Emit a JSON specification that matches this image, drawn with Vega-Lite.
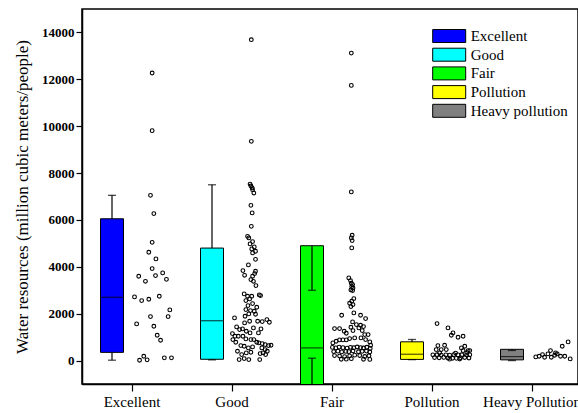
{
  "$schema": "https://vega.github.io/schema/vega-lite/v6.json",
  "width": 496,
  "height": 375,
  "autosize": "none",
  "padding": {"left": 82, "top": 9, "right": 0, "bottom": 29},
  "background": "white",
  "config": {
    "view": {"stroke": "black", "strokeWidth": 1.5},
    "font": "Liberation Serif",
    "style": {"guide-label": {"font": "Liberation Serif"}, "guide-title": {"font": "Liberation Serif"}},
    "axis": {"domainColor": "black", "domainWidth": 1.5, "tickColor": "black", "tickWidth": 1.2, "labelColor": "black", "titleColor": "black", "grid": false}
  },
  "datasets": {
    "boxes": [
      {"c": "Excellent", "q1": 350, "med": 2700, "q3": 6050, "lo": 15, "hi": 7050},
      {"c": "Good", "q1": 55, "med": 1700, "q3": 4800, "lo": 30, "hi": 7500},
      {"c": "Fair", "q1": -3000, "med": 540, "q3": 4900, "lo": 100, "hi": 3000},
      {"c": "Pollution", "q1": 50, "med": 270, "q3": 800, "lo": 40, "hi": 900},
      {"c": "Heavy Pollution", "q1": 30, "med": 170, "q3": 480, "lo": 0, "hi": 430}
    ],
    "points": [
      {"c": "Excellent", "v": 12270, "j": 0.48}, {"c": "Excellent", "v": 9810, "j": 0.48}, {"c": "Excellent", "v": 7050, "j": 0.44}, {"c": "Excellent", "v": 6270, "j": 0.52}, {"c": "Excellent", "v": 5045, "j": 0.48}, {"c": "Excellent", "v": 4620, "j": 0.40}, {"c": "Excellent", "v": 4337, "j": 0.57}, {"c": "Excellent", "v": 3924, "j": 0.48}, {"c": "Excellent", "v": 3740, "j": 0.73}, {"c": "Excellent", "v": 3596, "j": 0.16}, {"c": "Excellent", "v": 3625, "j": 0.56}, {"c": "Excellent", "v": 3467, "j": 0.82}, {"c": "Excellent", "v": 3382, "j": 0.32}, {"c": "Excellent", "v": 2717, "j": 0.06}, {"c": "Excellent", "v": 2559, "j": 0.23}, {"c": "Excellent", "v": 2616, "j": 0.40}, {"c": "Excellent", "v": 2744, "j": 0.65}, {"c": "Excellent", "v": 2162, "j": 0.90}, {"c": "Excellent", "v": 1877, "j": 0.86}, {"c": "Excellent", "v": 1877, "j": 0.44}, {"c": "Excellent", "v": 1565, "j": 0.11}, {"c": "Excellent", "v": 1465, "j": 0.52}, {"c": "Excellent", "v": 1080, "j": 0.60}, {"c": "Excellent", "v": 866, "j": 0.68}, {"c": "Excellent", "v": 185, "j": 0.28}, {"c": "Excellent", "v": 15, "j": 0.18}, {"c": "Excellent", "v": 30, "j": 0.36}, {"c": "Excellent", "v": 115, "j": 0.77}, {"c": "Excellent", "v": 115, "j": 0.94},
      {"c": "Good", "v": 13690, "j": 0.46}, {"c": "Good", "v": 9353, "j": 0.46}, {"c": "Good", "v": 7530, "j": 0.43}, {"c": "Good", "v": 7450, "j": 0.45}, {"c": "Good", "v": 7365, "j": 0.48}, {"c": "Good", "v": 7290, "j": 0.49}, {"c": "Good", "v": 7150, "j": 0.52}, {"c": "Good", "v": 6623, "j": 0.45}, {"c": "Good", "v": 6300, "j": 0.48}, {"c": "Good", "v": 5728, "j": 0.46}, {"c": "Good", "v": 5302, "j": 0.37}, {"c": "Good", "v": 5232, "j": 0.40}, {"c": "Good", "v": 5075, "j": 0.49}, {"c": "Good", "v": 4977, "j": 0.43}, {"c": "Good", "v": 4849, "j": 0.53}, {"c": "Good", "v": 4764, "j": 0.47}, {"c": "Good", "v": 4663, "j": 0.56}, {"c": "Good", "v": 4593, "j": 0.49}, {"c": "Good", "v": 4320, "j": 0.56}, {"c": "Good", "v": 4081, "j": 0.39}, {"c": "Good", "v": 3838, "j": 0.26}, {"c": "Good", "v": 3638, "j": 0.30}, {"c": "Good", "v": 3809, "j": 0.56}, {"c": "Good", "v": 3710, "j": 0.54}, {"c": "Good", "v": 3596, "j": 0.49}, {"c": "Good", "v": 3455, "j": 0.45}, {"c": "Good", "v": 3382, "j": 0.51}, {"c": "Good", "v": 3199, "j": 0.57}, {"c": "Good", "v": 2845, "j": 0.29}, {"c": "Good", "v": 2744, "j": 0.37}, {"c": "Good", "v": 2631, "j": 0.42}, {"c": "Good", "v": 2559, "j": 0.33}, {"c": "Good", "v": 2802, "j": 0.65}, {"c": "Good", "v": 2772, "j": 0.68}, {"c": "Good", "v": 2744, "j": 0.47}, {"c": "Good", "v": 2346, "j": 0.38}, {"c": "Good", "v": 2431, "j": 0.49}, {"c": "Good", "v": 2273, "j": 0.59}, {"c": "Good", "v": 2175, "j": 0.33}, {"c": "Good", "v": 2133, "j": 0.44}, {"c": "Good", "v": 2104, "j": 0.53}, {"c": "Good", "v": 1990, "j": 0.40}, {"c": "Good", "v": 1890, "j": 0.31}, {"c": "Good", "v": 1976, "j": 0.56}, {"c": "Good", "v": 1820, "j": 0.06}, {"c": "Good", "v": 1748, "j": 0.83}, {"c": "Good", "v": 1634, "j": 0.89}, {"c": "Good", "v": 1607, "j": 0.30}, {"c": "Good", "v": 1676, "j": 0.42}, {"c": "Good", "v": 1676, "j": 0.61}, {"c": "Good", "v": 1663, "j": 0.72}, {"c": "Good", "v": 1437, "j": 0.11}, {"c": "Good", "v": 1322, "j": 0.18}, {"c": "Good", "v": 1352, "j": 0.25}, {"c": "Good", "v": 1394, "j": 0.51}, {"c": "Good", "v": 1352, "j": 0.69}, {"c": "Good", "v": 1250, "j": 0.34}, {"c": "Good", "v": 1181, "j": 0.43}, {"c": "Good", "v": 1181, "j": 0.63}, {"c": "Good", "v": 1152, "j": 0.01}, {"c": "Good", "v": 1036, "j": 0.07}, {"c": "Good", "v": 1036, "j": 0.15}, {"c": "Good", "v": 1036, "j": 0.26}, {"c": "Good", "v": 924, "j": 0.33}, {"c": "Good", "v": 896, "j": 0.45}, {"c": "Good", "v": 896, "j": 0.52}, {"c": "Good", "v": 781, "j": 0.59}, {"c": "Good", "v": 896, "j": 0.02}, {"c": "Good", "v": 781, "j": 0.09}, {"c": "Good", "v": 753, "j": 0.64}, {"c": "Good", "v": 725, "j": 0.72}, {"c": "Good", "v": 682, "j": 0.79}, {"c": "Good", "v": 640, "j": 0.87}, {"c": "Good", "v": 653, "j": 0.93}, {"c": "Good", "v": 640, "j": 0.21}, {"c": "Good", "v": 610, "j": 0.29}, {"c": "Good", "v": 540, "j": 0.39}, {"c": "Good", "v": 584, "j": 0.49}, {"c": "Good", "v": 540, "j": 0.71}, {"c": "Good", "v": 469, "j": 0.79}, {"c": "Good", "v": 397, "j": 0.84}, {"c": "Good", "v": 327, "j": 0.74}, {"c": "Good", "v": 299, "j": 0.67}, {"c": "Good", "v": 397, "j": 0.13}, {"c": "Good", "v": 256, "j": 0.23}, {"c": "Good", "v": 327, "j": 0.34}, {"c": "Good", "v": 354, "j": 0.45}, {"c": "Good", "v": 43, "j": 0.17}, {"c": "Good", "v": 85, "j": 0.29}, {"c": "Good", "v": 43, "j": 0.40}, {"c": "Good", "v": 43, "j": 0.66}, {"c": "Good", "v": 256, "j": 0.80},
      {"c": "Fair", "v": 13120, "j": 0.46}, {"c": "Fair", "v": 11740, "j": 0.46}, {"c": "Fair", "v": 7195, "j": 0.46}, {"c": "Fair", "v": 5345, "j": 0.48}, {"c": "Fair", "v": 5232, "j": 0.46}, {"c": "Fair", "v": 5118, "j": 0.48}, {"c": "Fair", "v": 4806, "j": 0.47}, {"c": "Fair", "v": 3527, "j": 0.40}, {"c": "Fair", "v": 3412, "j": 0.44}, {"c": "Fair", "v": 3297, "j": 0.46}, {"c": "Fair", "v": 3241, "j": 0.49}, {"c": "Fair", "v": 3156, "j": 0.47}, {"c": "Fair", "v": 3100, "j": 0.50}, {"c": "Fair", "v": 3015, "j": 0.45}, {"c": "Fair", "v": 2985, "j": 0.49}, {"c": "Fair", "v": 2644, "j": 0.52}, {"c": "Fair", "v": 2530, "j": 0.47}, {"c": "Fair", "v": 2445, "j": 0.42}, {"c": "Fair", "v": 2388, "j": 0.50}, {"c": "Fair", "v": 2303, "j": 0.45}, {"c": "Fair", "v": 1933, "j": 0.23}, {"c": "Fair", "v": 2033, "j": 0.52}, {"c": "Fair", "v": 1933, "j": 0.68}, {"c": "Fair", "v": 1791, "j": 0.80}, {"c": "Fair", "v": 1649, "j": 0.49}, {"c": "Fair", "v": 1535, "j": 0.58}, {"c": "Fair", "v": 1507, "j": 0.68}, {"c": "Fair", "v": 1450, "j": 0.75}, {"c": "Fair", "v": 1394, "j": 0.64}, {"c": "Fair", "v": 1280, "j": 0.72}, {"c": "Fair", "v": 1365, "j": 0.06}, {"c": "Fair", "v": 1365, "j": 0.18}, {"c": "Fair", "v": 1251, "j": 0.29}, {"c": "Fair", "v": 1166, "j": 0.34}, {"c": "Fair", "v": 1422, "j": 0.45}, {"c": "Fair", "v": 1280, "j": 0.50}, {"c": "Fair", "v": 1109, "j": 0.78}, {"c": "Fair", "v": 1109, "j": 0.86}, {"c": "Fair", "v": 968, "j": 0.69}, {"c": "Fair", "v": 896, "j": 0.80}, {"c": "Fair", "v": 753, "j": 0.02}, {"c": "Fair", "v": 824, "j": 0.10}, {"c": "Fair", "v": 882, "j": 0.18}, {"c": "Fair", "v": 882, "j": 0.26}, {"c": "Fair", "v": 882, "j": 0.34}, {"c": "Fair", "v": 938, "j": 0.42}, {"c": "Fair", "v": 968, "j": 0.54}, {"c": "Fair", "v": 796, "j": 0.90}, {"c": "Fair", "v": 654, "j": 0.92},
      {"c": "Fair", "v": 560, "j": 0.01}, {"c": "Fair", "v": 540, "j": 0.09}, {"c": "Fair", "v": 575, "j": 0.17}, {"c": "Fair", "v": 550, "j": 0.26}, {"c": "Fair", "v": 530, "j": 0.36}, {"c": "Fair", "v": 565, "j": 0.44}, {"c": "Fair", "v": 545, "j": 0.52}, {"c": "Fair", "v": 580, "j": 0.60}, {"c": "Fair", "v": 555, "j": 0.68}, {"c": "Fair", "v": 535, "j": 0.75}, {"c": "Fair", "v": 570, "j": 0.83}, {"c": "Fair", "v": 520, "j": 0.91},
      {"c": "Fair", "v": 384, "j": 0.04}, {"c": "Fair", "v": 400, "j": 0.14}, {"c": "Fair", "v": 370, "j": 0.23}, {"c": "Fair", "v": 390, "j": 0.33}, {"c": "Fair", "v": 380, "j": 0.40}, {"c": "Fair", "v": 410, "j": 0.50}, {"c": "Fair", "v": 375, "j": 0.63}, {"c": "Fair", "v": 395, "j": 0.72}, {"c": "Fair", "v": 405, "j": 0.82}, {"c": "Fair", "v": 365, "j": 0.90},
      {"c": "Fair", "v": 213, "j": 0.06}, {"c": "Fair", "v": 190, "j": 0.18}, {"c": "Fair", "v": 170, "j": 0.30}, {"c": "Fair", "v": 200, "j": 0.42}, {"c": "Fair", "v": 230, "j": 0.54}, {"c": "Fair", "v": 215, "j": 0.66}, {"c": "Fair", "v": 175, "j": 0.78}, {"c": "Fair", "v": 205, "j": 0.88},
      {"c": "Fair", "v": 55, "j": 0.22}, {"c": "Fair", "v": 60, "j": 0.34}, {"c": "Fair", "v": 80, "j": 0.46}, {"c": "Fair", "v": 55, "j": 0.75}, {"c": "Fair", "v": 50, "j": 0.90},
      {"c": "Pollution", "v": 1578, "j": 0.12}, {"c": "Pollution", "v": 1394, "j": 0.38}, {"c": "Pollution", "v": 1181, "j": 0.50}, {"c": "Pollution", "v": 1080, "j": 0.46}, {"c": "Pollution", "v": 994, "j": 0.62}, {"c": "Pollution", "v": 1036, "j": 0.74}, {"c": "Pollution", "v": 640, "j": 0.14}, {"c": "Pollution", "v": 654, "j": 0.30}, {"c": "Pollution", "v": 610, "j": 0.78}, {"c": "Pollution", "v": 540, "j": 0.70}, {"c": "Pollution", "v": 469, "j": 0.10}, {"c": "Pollution", "v": 469, "j": 0.22}, {"c": "Pollution", "v": 469, "j": 0.34}, {"c": "Pollution", "v": 426, "j": 0.74}, {"c": "Pollution", "v": 426, "j": 0.86}, {"c": "Pollution", "v": 426, "j": 0.90},
      {"c": "Pollution", "v": 243, "j": 0.02}, {"c": "Pollution", "v": 250, "j": 0.12}, {"c": "Pollution", "v": 235, "j": 0.22}, {"c": "Pollution", "v": 243, "j": 0.33}, {"c": "Pollution", "v": 230, "j": 0.42}, {"c": "Pollution", "v": 255, "j": 0.52}, {"c": "Pollution", "v": 240, "j": 0.62}, {"c": "Pollution", "v": 250, "j": 0.71}, {"c": "Pollution", "v": 235, "j": 0.82}, {"c": "Pollution", "v": 245, "j": 0.90},
      {"c": "Pollution", "v": 128, "j": 0.06}, {"c": "Pollution", "v": 120, "j": 0.17}, {"c": "Pollution", "v": 135, "j": 0.28}, {"c": "Pollution", "v": 110, "j": 0.38}, {"c": "Pollution", "v": 100, "j": 0.49}, {"c": "Pollution", "v": 95, "j": 0.58}, {"c": "Pollution", "v": 115, "j": 0.68}, {"c": "Pollution", "v": 130, "j": 0.78}, {"c": "Pollution", "v": 110, "j": 0.88},
      {"c": "Pollution", "v": 330, "j": 0.18}, {"c": "Pollution", "v": 320, "j": 0.56}, {"c": "Pollution", "v": 340, "j": 0.83}, {"c": "Pollution", "v": 60, "j": 0.42}, {"c": "Pollution", "v": 65, "j": 0.66},
      {"c": "Heavy Pollution", "v": 157, "j": 0.09}, {"c": "Heavy Pollution", "v": 185, "j": 0.17}, {"c": "Heavy Pollution", "v": 256, "j": 0.25}, {"c": "Heavy Pollution", "v": 142, "j": 0.30}, {"c": "Heavy Pollution", "v": 284, "j": 0.38}, {"c": "Heavy Pollution", "v": 142, "j": 0.46}, {"c": "Heavy Pollution", "v": 227, "j": 0.54}, {"c": "Heavy Pollution", "v": 284, "j": 0.60}, {"c": "Heavy Pollution", "v": 185, "j": 0.68}, {"c": "Heavy Pollution", "v": 185, "j": 0.78}, {"c": "Heavy Pollution", "v": 70, "j": 0.91}, {"c": "Heavy Pollution", "v": 426, "j": 0.44}, {"c": "Heavy Pollution", "v": 327, "j": 0.56}, {"c": "Heavy Pollution", "v": 610, "j": 0.72}, {"c": "Heavy Pollution", "v": 796, "j": 0.86}
    ]
  },
  "encoding": {
    "x": {
      "field": "c", "type": "nominal",
      "scale": {"domain": ["Excellent", "Good", "Fair", "Pollution", "Heavy Pollution"], "range": [0, 500], "paddingInner": 0, "paddingOuter": 0},
      "axis": {"title": null, "labelAngle": 0, "labelFont": "Liberation Serif", "labelFontSize": 15, "tickSize": 7, "labelPadding": 3}
    }
  },
  "layer": [
    {
      "data": {"name": "boxes"},
      "mark": {"type": "bar", "width": 23, "xOffset": -20, "stroke": "black", "strokeWidth": 1, "clip": true},
      "encoding": {
        "y": {
          "field": "q1", "type": "quantitative",
          "scale": {"domain": [-1000, 15000], "nice": false, "zero": false},
          "axis": {
            "title": "Water resources (million cubic meters/people)",
            "titleFont": "Liberation Serif", "titleFontSize": 17, "titleFontWeight": "normal", "titlePadding": 10,
            "values": [0, 1000, 2000, 3000, 4000, 5000, 6000, 7000, 8000, 9000, 10000, 11000, 12000, 13000, 14000],
            "labelExpr": "datum.value % 2000 === 0 ? datum.label : ''",
            "format": "d",
            "labelFont": "Liberation Serif", "labelFontSize": 13, "labelFontWeight": "bold", "labelPadding": 2,
            "tickSize": {"condition": {"test": "datum.value % 2000 === 0", "value": 6}, "value": 3.5}
          }
        },
        "y2": {"field": "q3"},
        "color": {
          "field": "c", "type": "nominal",
          "scale": {"domain": ["Excellent", "Good", "Fair", "Pollution", "Heavy Pollution"], "range": ["#0000FF", "#00FFFF", "#00FF00", "#FFFF00", "#808080"]},
          "legend": {
            "title": null, "orient": "none", "legendX": 359.7, "legendY": 19.5,
            "symbolType": "M-3.667,-1.444H3.667V1.444H-3.667Z", "symbolSize": 81,
            "symbolStrokeColor": "black", "symbolStrokeWidth": 1, "symbolOpacity": 1,
            "labelFont": "Liberation Serif", "labelFontSize": 15, "labelColor": "black", "labelOffset": 14,
            "rowPadding": 1.7,
            "labelExpr": "datum.label === 'Heavy Pollution' ? 'Heavy pollution' : datum.label"
          }
        }
      }
    },
    {
      "data": {"name": "boxes"},
      "mark": {"type": "rule", "xOffset": -20, "color": "black", "strokeWidth": 1.2, "clip": true},
      "encoding": {"y": {"field": "lo", "type": "quantitative"}, "y2": {"field": "q1"}}
    },
    {
      "data": {"name": "boxes"},
      "mark": {"type": "rule", "xOffset": -20, "color": "black", "strokeWidth": 1.2, "clip": true},
      "encoding": {"y": {"field": "q3", "type": "quantitative"}, "y2": {"field": "hi"}}
    },
    {
      "data": {"name": "boxes"},
      "mark": {"type": "tick", "orient": "horizontal", "xOffset": -20, "size": 8, "thickness": 1.3, "color": "black"},
      "encoding": {"y": {"field": "lo", "type": "quantitative"}}
    },
    {
      "data": {"name": "boxes"},
      "mark": {"type": "tick", "orient": "horizontal", "xOffset": -20, "size": 8, "thickness": 1.3, "color": "black"},
      "encoding": {"y": {"field": "hi", "type": "quantitative"}}
    },
    {
      "data": {"name": "boxes"},
      "mark": {"type": "tick", "orient": "horizontal", "xOffset": -20, "size": 23, "thickness": 1.2, "color": "black"},
      "encoding": {"y": {"field": "med", "type": "quantitative"}}
    },
    {
      "data": {"name": "points"},
      "mark": {"type": "point", "shape": "circle", "filled": false, "size": 14, "stroke": "black", "strokeWidth": 1.1, "opacity": 1},
      "encoding": {
        "y": {"field": "v", "type": "quantitative"},
        "xOffset": {"field": "j", "type": "quantitative", "scale": {"domain": [0, 1], "range": [50, 92]}}
      }
    }
  ]
}
